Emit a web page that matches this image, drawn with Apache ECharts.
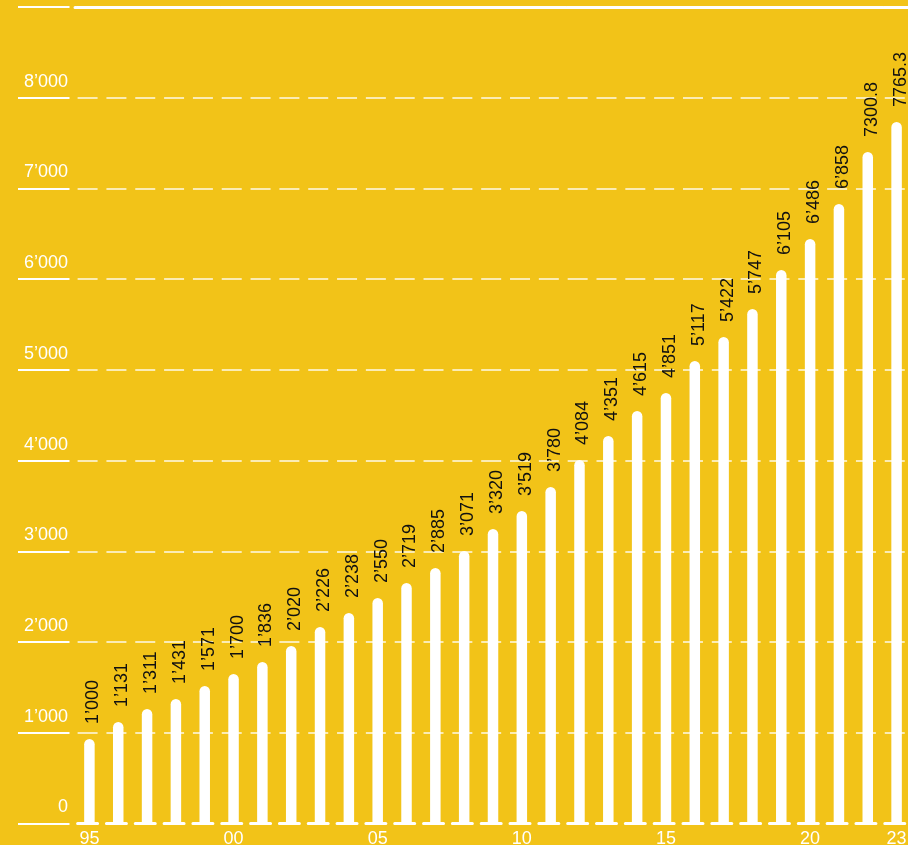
<!DOCTYPE html>
<html>
<head>
<meta charset="utf-8">
<script src="https://cdn.jsdelivr.net/npm/echarts@6/dist/echarts.min.js"></script>
<style>
  html, body { margin: 0; padding: 0; background: #f2c318; }
  #chart { width: 908px; height: 845px; }
</style>
</head>
<body>
<div id="chart"></div>
<script>
// years 1995 - 2023
var years = ['1995','1996','1997','1998','1999','2000','2001','2002','2003','2004',
             '2005','2006','2007','2008','2009','2010','2011','2012','2013','2014',
             '2015','2016','2017','2018','2019','2020','2021','2022','2023'];
// bar heights as drawn
var barValues = [930, 1118, 1261, 1372, 1515, 1647, 1780, 1956, 2165, 2320,
                 2485, 2650, 2816, 3003, 3246, 3444, 3709, 4007, 4271, 4547,
                 4745, 5098, 5363, 5671, 6101, 6443, 6829, 7402, 7733];
// printed labels above the bars
var barLabels = ['1’000','1’131','1’311','1’431','1’571','1’700','1’836','2’020','2’226','2’238',
                 '2’550','2’719','2’885','3’071','3’320','3’519','3’780','4’084','4’351','4’615',
                 '4’851','5’117','5’422','5’747','6’105','6’486','6’858','7300.8','7765.3'];
var yTicks = ['0','1’000','2’000','3’000','4’000','5’000','6’000','7’000','8’000',''];

var font = "'Liberation Sans', Arial, sans-serif";
var band = (908 - 75 + 3) / years.length;   // category width in px
var dash = [20, band - 20];

var chart = echarts.init(document.getElementById('chart'));
var option = {
    backgroundColor: '#f2c318',
    animation: false,
    grid: { left: 75, right: -3, top: 7, bottom: 21.6, outerBoundsMode: 'none', containLabel: false },
    xAxis: [
        {
            type: 'category',
            data: years,
            axisTick: { show: false },
            axisLine: {
                lineStyle: { color: '#fff', width: 3, type: dash, dashOffset: band - 2.6 }
            },
            axisLabel: {
                color: '#fff',
                fontFamily: font,
                fontSize: 18,
                margin: 7,
                interval: function (i) { return i % 5 === 0 || i === years.length - 1; },
                formatter: function (v) { return v.slice(2); }
            }
        },
        {
            type: 'category',
            position: 'top',
            data: years,
            axisTick: { show: false },
            axisLabel: { show: false },
            axisLine: {
                lineStyle: { color: '#fff', width: 3, type: [band - 1.2, 1.2], dashOffset: band - 2 }
            }
        }
    ],
    yAxis: {
        type: 'value',
        min: 0,
        max: 9000,
        interval: 1000,
        offset: 5.5,
        axisLine: { show: false },
        axisTick: {
            show: true,
            length: 51.5,
            lineStyle: { color: '#fff', width: 2 }
        },
        axisLabel: {
            color: '#fff',
            fontFamily: font,
            fontSize: 18,
            margin: 1.5,
            verticalAlign: 'bottom',
            padding: [0, 0, 7, 0],
            formatter: function (v) { return yTicks[v / 1000]; }
        },
        splitLine: {
            lineStyle: { color: '#fff', width: 1.5, opacity: 0.9, type: dash, dashOffset: band - 2.6 }
        }
    },
    series: [
        {
            type: 'bar',
            data: barValues,
            barWidth: 10.5,
            itemStyle: { color: '#fff', borderRadius: [5.25, 5.25, 0, 0] },
            label: {
                show: true,
                position: 'top',
                distance: 15,
                rotate: 90,
                offset: [0, 4],
                align: 'left',
                verticalAlign: 'middle',
                color: '#111',
                fontFamily: font,
                fontSize: 18,
                formatter: function (p) { return barLabels[p.dataIndex]; }
            }
        }
    ]
};
chart.setOption(option);
</script>
</body>
</html>
